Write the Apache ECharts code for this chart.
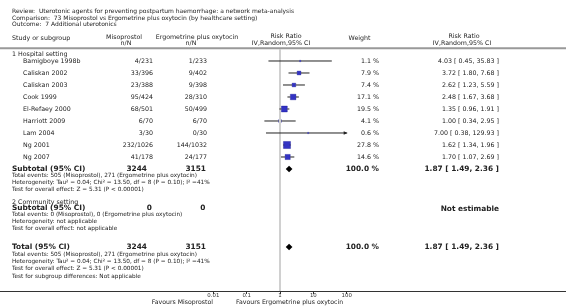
<!DOCTYPE html>
<html><head><meta charset="utf-8">
<script src="https://cdn.jsdelivr.net/npm/echarts@6/dist/echarts.min.js"></script>
<style>html,body{margin:0;padding:0;background:#fff;}#c{width:566px;height:308px;}</style>
</head><body><div id="c"></div>
<script>
// ---- data ----
const studies = ['Bamigboye 1998b','Caliskan 2002','Caliskan 2003','Cook 1999','El-Refaey 2000','Harriott 2009','Lam 2004','Ng 2001','Ng 2007'];
const misoEvents = [4,33,23,95,68,6,3,232,41];
const misoTotal = [231,396,388,424,501,70,30,1026,178];
const ergoEvents = [1,9,9,28,50,6,0,144,24];
const ergoTotal = [233,402,398,310,499,70,30,1032,177];
const weights = [1.1,7.9,7.4,17.1,19.5,4.1,0.6,27.8,14.6];
const rr = [4.03,3.72,2.62,2.48,1.35,1.00,7.00,1.62,1.70];
const ciLow = [0.45,1.80,1.23,1.67,0.96,0.34,0.38,1.34,1.07];
const ciHigh = [35.83,7.68,5.59,3.68,1.91,2.95,129.93,1.96,2.69];
const pooledRR = [1.87,1.87];
const pooledLow = [1.49,1.49];
const pooledHigh = [2.36,2.36];
const pooledRows = [9,15.5];
const tickLabels = ['0.01','0.1','1','10','100'];

const FONT = '"DejaVu Sans", Verdana, sans-serif';
const TXT = '#222';
const chart = echarts.init(document.getElementById('c'), null, {renderer:'canvas'});

const xMin = 0.01, xMax = 100;
const boxSize = w => Math.max(1.3, 1.35*Math.sqrt(w));

const option = {
  animation:false,
  grid:{left:213.33, right:219.33, top:49, bottom:17},
  xAxis:{type:'log', logBase:10, min:xMin, max:xMax,
    axisLine:{show:false, onZero:false},
    axisTick:{show:true, length:3, inside:false, lineStyle:{color:'#333', width:1}},
    axisLabel:{fontSize:5.4, fontFamily:FONT, color:'#333', margin:2,
      formatter:(v)=>{ const s = tickLabels.find(t=>Math.abs(Math.log10(+t)-Math.log10(v))<1e-6); return s||''; }},
    splitLine:{show:false}},
  yAxis:{type:'value', inverse:true, min:-1, max:19.1667, show:false, splitLine:{show:false}},
  series:[
    // confidence interval lines (drawn around the box, not through it)
    {type:'custom', z:6, clip:false,
     data: studies.map((s,i)=>[ciLow[i], ciHigh[i], i, rr[i], weights[i]]),
     renderItem:(params, api)=>{
       const lo = api.value(0), hi = api.value(1), r = api.value(2), est = api.value(3), w = api.value(4);
       const clipped = hi > xMax;
       const p1 = api.coord([Math.max(lo,xMin), r]);
       const p2 = api.coord([Math.min(hi,xMax), r]);
       const pc = api.coord([est, r]);
       const half = boxSize(w)/2;
       const st = {stroke:'#222', lineWidth:1};
       const children = [
         {type:'line', shape:{x1:p1[0], y1:p1[1], x2:pc[0]-half, y2:pc[1]}, style:st},
         {type:'line', shape:{x1:pc[0]+half, y1:pc[1], x2:p2[0], y2:p2[1]}, style:st}
       ];
       if (clipped) {
         children.push({type:'polygon', shape:{points:[[p2[0]+1,p2[1]],[p2[0]-3,p2[1]-1.8],[p2[0]-3,p2[1]+1.8]]}, style:{fill:'#222'}});
       }
       return {type:'group', children};
     }},
    // study boxes
    {type:'scatter', z:4,
     data: studies.map((s,i)=>[rr[i], i, weights[i]]),
     symbol:'rect',
     symbolSize:(v)=>boxSize(v[2]),
     itemStyle:{color:'#0000b4', borderColor:'#00008a', borderWidth:0.4}},
    // line of no effect
    {type:'line', z:5, data:[], symbol:'none',
     markLine:{silent:true, symbol:'none', label:{show:false},
       lineStyle:{color:'#d0d0d0', width:2, type:'solid'},
       data:[{xAxis:1}]}},
    // pooled diamonds
    {type:'custom', z:6,
     data: pooledRR.map((v,i)=>[pooledLow[i], v, pooledHigh[i], pooledRows[i]]),
     renderItem:(params, api)=>{
       const lo=api.value(0), m=api.value(1), hi=api.value(2), r=api.value(3);
       const h=0.27;
       const a=api.coord([lo,r]), b=api.coord([m,r-h]), c=api.coord([hi,r]), d=api.coord([m,r+h]);
       return {type:'polygon', shape:{points:[a,b,c,d]}, style:{fill:'#000'}};
     }}
  ]
};
chart.setOption(option);

function rowY(r){ return chart.convertToPixel({yAxisIndex:0}, r); }
function t(text, x, y, size, align, weight){
  return {type:'text', x:x, y:y, silent:true,
    style:{text:text, fontSize:size, fontFamily:FONT, fontWeight:weight||'normal', fill:TXT,
      align:align||'left', verticalAlign:'middle'}};
}
const TS = 6.0, HS = 6.3, RS = 6.3, BS = 7.4, SS = 5.75;
const g = [];
// title block
g.push(t('Review:  Uterotonic agents for preventing postpartum haemorrhage: a network meta-analysis', 12, 11.7, TS));
g.push(t('Comparison:  73 Misoprostol vs Ergometrine plus oxytocin (by healthcare setting)', 12, 18, TS));
g.push(t('Outcome:  7 Additional uterotonics', 12, 24.5, TS));
// headers
g.push(t('Study or subgroup', 12, 38.5, HS));
g.push(t('Misoprostol', 124, 37.5, HS, 'center'));
g.push(t('n/N', 126, 43.5, HS, 'center'));
g.push(t('Ergometrine plus oxytocin', 197, 37.5, HS, 'center'));
g.push(t('n/N', 191, 43.5, HS, 'center'));
g.push(t('Risk Ratio', 286, 36, HS, 'center'));
g.push(t('IV,Random,95% CI', 281, 43, HS, 'center'));
g.push(t('Weight', 359.5, 38.5, HS, 'center'));
g.push(t('Risk Ratio', 464, 36, HS, 'center'));
g.push(t('IV,Random,95% CI', 462, 43, HS, 'center'));
g.push({type:'line', silent:true, shape:{x1:0, y1:48.3, x2:566, y2:48.3}, style:{stroke:'#999', lineWidth:2}});
g.push(t('1 Hospital setting', 12, 54.7, RS));
// study rows
const f2 = v=>v.toFixed(2);
studies.forEach((s,i)=>{
  const y = rowY(i);
  g.push(t(s, 23, y, RS));
  g.push(t(misoEvents[i]+'/'+misoTotal[i], 153, y, RS, 'right'));
  g.push(t(ergoEvents[i]+'/'+ergoTotal[i], 207, y, RS, 'right'));
  g.push(t(weights[i].toFixed(1)+' %', 379, y, RS, 'right'));
  g.push(t(f2(rr[i])+' [ '+f2(ciLow[i])+', '+f2(ciHigh[i])+' ]', 499, y, RS, 'right'));
});
const misoSum = misoTotal.reduce((a,b)=>a+b,0), ergoSum = ergoTotal.reduce((a,b)=>a+b,0);
const misoEv = misoEvents.reduce((a,b)=>a+b,0), ergoEv = ergoEvents.reduce((a,b)=>a+b,0);
const pooledTxt = f2(pooledRR[0])+' [ '+f2(pooledLow[0])+', '+f2(pooledHigh[0])+' ]';
// subtotal 1
let y = rowY(pooledRows[0]);
g.push(t('Subtotal (95% CI)', 12, y, BS, 'left', 'bold'));
g.push(t(String(misoSum), 147, y, BS, 'right', 'bold'));
g.push(t(String(ergoSum), 206, y, BS, 'right', 'bold'));
g.push(t('100.0 %', 379, y, BS, 'right', 'bold'));
g.push(t(pooledTxt, 499, y, BS, 'right', 'bold'));
g.push(t('Total events: '+misoEv+' (Misoprostol), '+ergoEv+' (Ergometrine plus oxytocin)', 12, 175.5, SS));
g.push(t('Heterogeneity: Tau\u00b2 = 0.04; Chi\u00b2 = 13.50, df = 8 (P = 0.10); I\u00b2 =41%', 12, 182.3, SS));
g.push(t('Test for overall effect: Z = 5.31 (P < 0.00001)', 12, 189.2, SS));
// community
g.push(t('2 Community setting', 12, 202.3, RS));
g.push(t('Subtotal (95% CI)', 12, 208, BS, 'left', 'bold'));
g.push(t('0', 152, 208, BS, 'right', 'bold'));
g.push(t('0', 205.5, 208, BS, 'right', 'bold'));
g.push(t('Not estimable', 499, 209, BS, 'right', 'bold'));
g.push(t('Total events: 0 (Misoprostol), 0 (Ergometrine plus oxytocin)', 12, 214.8, SS));
g.push(t('Heterogeneity: not applicable', 12, 221.4, SS));
g.push(t('Test for overall effect: not applicable', 12, 228.1, SS));
// total
y = rowY(pooledRows[1]);
g.push(t('Total (95% CI)', 12, y, BS, 'left', 'bold'));
g.push(t(String(misoSum), 147, y, BS, 'right', 'bold'));
g.push(t(String(ergoSum), 206, y, BS, 'right', 'bold'));
g.push(t('100.0 %', 379, y, BS, 'right', 'bold'));
g.push(t(pooledTxt, 499, y, BS, 'right', 'bold'));
g.push(t('Total events: '+misoEv+' (Misoprostol), '+ergoEv+' (Ergometrine plus oxytocin)', 12, 254.4, SS));
g.push(t('Heterogeneity: Tau\u00b2 = 0.04; Chi\u00b2 = 13.50, df = 8 (P = 0.10); I\u00b2 =41%', 12, 261.1, SS));
g.push(t('Test for overall effect: Z = 5.31 (P < 0.00001)', 12, 268, SS));
g.push(t('Test for subgroup differences: Not applicable', 12, 276, SS));
// axis baseline and favours
g.push({type:'line', silent:true, shape:{x1:0, y1:291.5, x2:566, y2:291.5}, style:{stroke:'#333', lineWidth:1}});
g.push(t('Favours Misoprostol', 213, 302.5, 6.2, 'right'));
g.push(t('Favours Ergometrine plus oxytocin', 236, 302.5, 6.2, 'left'));

chart.setOption({graphic:g});
</script></body></html>
